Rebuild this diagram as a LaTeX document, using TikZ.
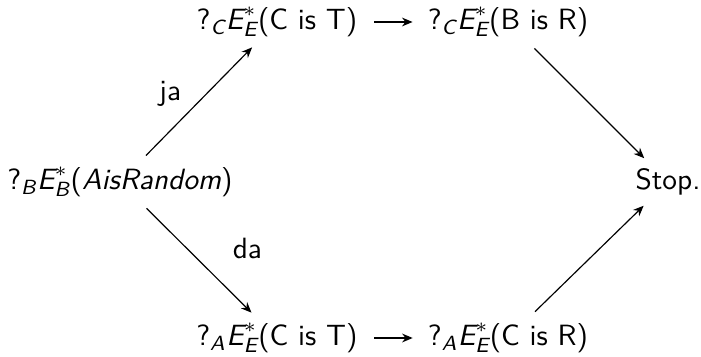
\documentclass[tikz,border=0pt]{standalone}
\usepackage{amsmath}
\usetikzlibrary{arrows.meta}
\newcommand{\mi}[1]{\text{\sffamily\itshape #1}}
\begin{document}
\begin{tikzpicture}[x=0.341pt,y=-0.341pt,
  every node/.style={font=\sffamily},
  term/.style={inner xsep=4.5pt,inner ysep=3pt},
  conn/.style={-{Stealth[length=3.6pt,width=3pt]},line width=0.4pt,shorten >=0.5pt,shorten <=1pt},
  lab/.style={font=\sffamily,inner sep=2pt}]
\useasboundingbox (0,0) rectangle (701,357);
\node[term] (L) at (120,182) {?$_{\mi{B}}\mi{E}^*_{\mi{B}}$(\textit{AisRandom})};
\node[term] (TL) at (277,22) {?$_{\mi{C}}\mi{E}^*_{\mi{E}}$(C is T)};
\node[term] (TR) at (508,22) {?$_{\mi{C}}\mi{E}^*_{\mi{E}}$(B is R)};
\node[term] (BL) at (277,338) {?$_{\mi{A}}\mi{E}^*_{\mi{E}}$(C is T)};
\node[term] (BR) at (508,338) {?$_{\mi{A}}\mi{E}^*_{\mi{E}}$(C is R)};
\node[term] (S) at (668,182) {Stop.};
\draw[conn] (L) -- node[lab,pos=0.4,anchor=south east] {ja} (TL);
\draw[conn] (L) -- node[lab,pos=0.5,anchor=west,xshift=9.5pt,yshift=4pt] {da} (BL);
\draw[conn] (TL) -- (TR);
\draw[conn] (BL) -- (BR);
\draw[conn] (TR) -- (S);
\draw[conn] (BR) -- (S);
\end{tikzpicture}
\end{document}
